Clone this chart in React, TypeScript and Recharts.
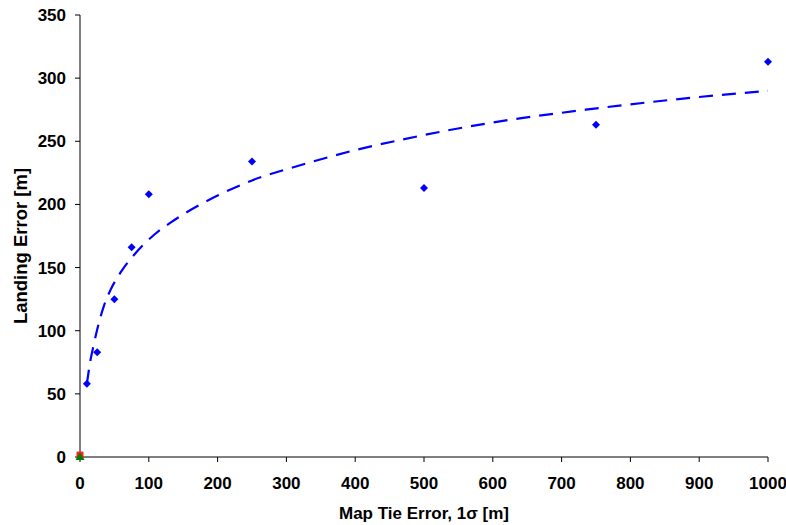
import { ComposedChart, Scatter, Line, XAxis, YAxis, Label } from 'recharts'

// measured points (map tie error vs landing error)
const tieErrors = [10, 25, 50, 75, 100, 250, 500, 750, 1000]
const landingErrors = [58, 83, 125, 166, 208, 234, 213, 263, 313]

// logarithmic trend line
const trendX = [10, 15, 20, 25, 35, 45, 60, 80, 110, 130, 200, 250, 320, 400, 465, 590, 735, 880, 1000]
const trendY = [58, 76, 89, 101, 120, 133, 147, 161, 177, 185, 207, 219, 231, 243, 251, 264, 275, 284, 290]

// markers sitting at the origin
const originSquare = [{ x: 0, y: 1.5 }]
const originTriangle = [{ x: 0, y: 0 }]

const xTicks = [0, 100, 200, 300, 400, 500, 600, 700, 800, 900, 1000]
const yTicks = [0, 50, 100, 150, 200, 250, 300, 350]

const points = tieErrors.map((x, i) => ({ x, y: landingErrors[i] }))
const trend = trendX.map((x, i) => ({ x, y: trendY[i] }))

const FONT = '"Liberation Sans", Arial, sans-serif'
const tickStyle = { fill: '#000', fontSize: 17, fontWeight: 700, fontFamily: FONT }

const Diamond = (props: any) => {
  const { cx, cy } = props
  const r = 4
  return <polygon points={`${cx},${cy - r} ${cx + r},${cy} ${cx},${cy + r} ${cx - r},${cy}`} fill="#0000ff" />
}

const Square = (props: any) => {
  const { cx, cy } = props
  return <rect x={cx - 3.5} y={cy - 3.5} width={7} height={7} fill="#ff2020" />
}

const Triangle = (props: any) => {
  const { cx, cy } = props
  return <polygon points={`${cx},${cy - 4.5} ${cx + 4.5},${cy + 3} ${cx - 4.5},${cy + 3}`} fill="#008000" />
}

const YTitle = (props: any) => {
  const vb = props.viewBox || { y: 0, height: 0 }
  const x = 27
  const y = vb.y + vb.height / 2 + 10
  return (
    <text x={x} y={y} transform={`rotate(-90, ${x}, ${y})`} textAnchor="middle"
      style={{ fontSize: 18.5, fontWeight: 700, fontFamily: FONT, fill: '#000' }}>
      Landing Error [m]
    </text>
  )
}

export default function App() {
  return (
    <div style={{ position: 'absolute', left: 0, top: 0, background: '#fff' }}>
      <ComposedChart width={786} height={525} margin={{ top: 15, right: 18, bottom: 0, left: 0 }}>
        <XAxis
          dataKey="x"
          type="number"
          domain={[0, 1000]}
          ticks={xTicks}
          height={68}
          tickSize={5}
          tickMargin={15}
          tick={tickStyle}
          axisLine={{ stroke: '#000' }}
          tickLine={{ stroke: '#000' }}
        >
          <Label value="Map Tie Error, 1σ [m]" position="insideBottom" offset={6}
            style={{ fontSize: 17, fontWeight: 700, fontFamily: FONT, fill: '#000' }} />
        </XAxis>
        <YAxis
          dataKey="y"
          type="number"
          domain={[0, 350]}
          ticks={yTicks}
          width={80}
          tickSize={5}
          tickMargin={9}
          tick={tickStyle}
          axisLine={{ stroke: '#000' }}
          tickLine={{ stroke: '#000' }}
        >
          <Label content={<YTitle />} />
        </YAxis>
        <Line
          data={trend}
          dataKey="y"
          type="monotone"
          stroke="#0000ff"
          strokeWidth={2.2}
          strokeDasharray="14 9"
          dot={false}
          activeDot={false}
          isAnimationActive={false}
        />
        <Scatter data={points} dataKey="y" shape={<Diamond />} isAnimationActive={false} />
        <Scatter data={originSquare} dataKey="y" shape={<Square />} isAnimationActive={false} />
        <Scatter data={originTriangle} dataKey="y" shape={<Triangle />} isAnimationActive={false} />
      </ComposedChart>
    </div>
  )
}
